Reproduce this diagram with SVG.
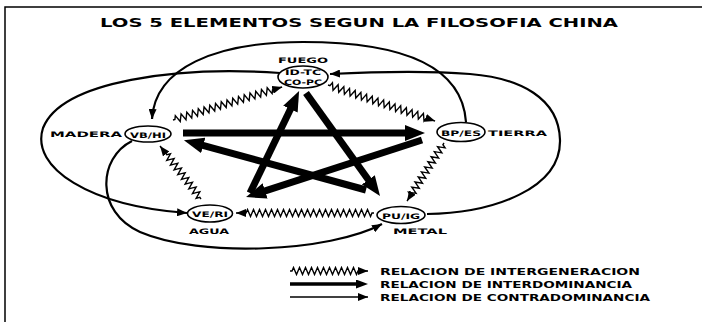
<svg xmlns="http://www.w3.org/2000/svg" width="702" height="322" viewBox="0 0 702 322">
<defs>
<marker id="ah" markerUnits="userSpaceOnUse" markerWidth="10" markerHeight="8" refX="10" refY="4" orient="auto"><path d="M0,0 L10,4 L0,8 z" fill="#000"/></marker>
<marker id="AH" markerUnits="userSpaceOnUse" markerWidth="20" markerHeight="16" refX="8" refY="8" orient="auto"><path d="M0,0 L20,8 L0,16 z" fill="#000"/></marker>
<marker id="LH" markerUnits="userSpaceOnUse" markerWidth="12" markerHeight="9" refX="4" refY="4.5" orient="auto"><path d="M0,0 L12,4.5 L0,9 z" fill="#000"/></marker>
</defs>
<style>
.t{font-family:"DejaVu Sans","Liberation Sans",sans-serif;font-weight:bold;fill:#000}
.lab{font-size:7.5px}
.in{font-size:7.5px}
.leg{font-size:8.5px}
.thin{fill:none;stroke:#000;stroke-width:2.2;marker-end:url(#ah)}
.thick{fill:none;stroke:#000;stroke-width:7;marker-end:url(#AH)}
.wavy{fill:none;stroke:#000;stroke-width:1.4;marker-end:url(#ah)}
.node ellipse{fill:#fff;stroke:#000;stroke-width:1.6}
</style>
<rect width="702" height="322" fill="#fff"/>
<path d="M5,322 V7 H702" fill="none" stroke="#000" stroke-width="1.5"/>
<text id="title" class="t" x="100" y="27" font-size="13" textLength="518" lengthAdjust="spacingAndGlyphs">LOS 5 ELEMENTOS SEGUN LA FILOSOFIA CHINA</text>

<g id="connectors">
<path class="thin" d="M466,122 C462,62 395,42 303,42 C215,42 155,68 152,119"/>
<path class="thin" d="M427,214 C495,213 561,188 560,140 C559,98 520,78 470,74 C420,70 370,72 330,74"/>
<path class="thin" d="M280,73 C180,66 62,80 43,128 C30,168 90,206 187,213"/>
<path class="thin" d="M132,141 C98,158 95,212 140,232 C200,258 330,252 382,224"/>
<line class="thick" x1="183" y1="133" x2="413" y2="133"/>
<line class="thick" x1="422" y1="140" x2="257.5" y2="193.4"/>
<line class="thick" x1="250" y1="193" x2="293.9" y2="101.9"/>
<line class="thick" x1="306" y1="93" x2="373" y2="186.3"/>
<line class="thick" x1="366" y1="190" x2="195.5" y2="143.3"/>
<path class="wavy" transform="translate(173,120) rotate(-16.84)" d="M0,0 h2 l1.5,-3.5 3,7 1.5,-3.5 1.5,-3.5 3,7 1.5,-3.5 1.5,-3.5 3,7 1.5,-3.5 1.5,-3.5 3,7 1.5,-3.5 1.5,-3.5 3,7 1.5,-3.5 1.5,-3.5 3,7 1.5,-3.5 1.5,-3.5 3,7 1.5,-3.5 1.5,-3.5 3,7 1.5,-3.5 1.5,-3.5 3,7 1.5,-3.5 1.5,-3.5 3,7 1.5,-3.5 1.5,-3.5 3,7 1.5,-3.5 1.5,-3.5 3,7 1.5,-3.5 1.5,-3.5 3,7 1.5,-3.5 1.5,-3.5 3,7 1.5,-3.5 1.5,-3.5 3,7 1.5,-3.5 1.5,-3.5 3,7 1.5,-3.5 1.5,-3.5 3,7 1.5,-3.5 h10"/>
<path class="wavy" transform="translate(328,85) rotate(18.6)" d="M0,0 h2 l1.5,-3.5 3,7 1.5,-3.5 1.5,-3.5 3,7 1.5,-3.5 1.5,-3.5 3,7 1.5,-3.5 1.5,-3.5 3,7 1.5,-3.5 1.5,-3.5 3,7 1.5,-3.5 1.5,-3.5 3,7 1.5,-3.5 1.5,-3.5 3,7 1.5,-3.5 1.5,-3.5 3,7 1.5,-3.5 1.5,-3.5 3,7 1.5,-3.5 1.5,-3.5 3,7 1.5,-3.5 1.5,-3.5 3,7 1.5,-3.5 1.5,-3.5 3,7 1.5,-3.5 1.5,-3.5 3,7 1.5,-3.5 1.5,-3.5 3,7 1.5,-3.5 1.5,-3.5 3,7 1.5,-3.5 1.5,-3.5 3,7 1.5,-3.5 1.5,-3.5 3,7 1.5,-3.5 h9"/>
<path class="wavy" transform="translate(444,143) rotate(122.5)" d="M0,0 h2 l1.5,-3.5 3,7 1.5,-3.5 1.5,-3.5 3,7 1.5,-3.5 1.5,-3.5 3,7 1.5,-3.5 1.5,-3.5 3,7 1.5,-3.5 1.5,-3.5 3,7 1.5,-3.5 1.5,-3.5 3,7 1.5,-3.5 1.5,-3.5 3,7 1.5,-3.5 1.5,-3.5 3,7 1.5,-3.5 1.5,-3.5 3,7 1.5,-3.5 1.5,-3.5 3,7 1.5,-3.5 h6.8"/>
<path class="wavy" transform="translate(374,213) rotate(180)" d="M0,0 h2 l1.5,-3.5 3,7 1.5,-3.5 1.5,-3.5 3,7 1.5,-3.5 1.5,-3.5 3,7 1.5,-3.5 1.5,-3.5 3,7 1.5,-3.5 1.5,-3.5 3,7 1.5,-3.5 1.5,-3.5 3,7 1.5,-3.5 1.5,-3.5 3,7 1.5,-3.5 1.5,-3.5 3,7 1.5,-3.5 1.5,-3.5 3,7 1.5,-3.5 1.5,-3.5 3,7 1.5,-3.5 1.5,-3.5 3,7 1.5,-3.5 1.5,-3.5 3,7 1.5,-3.5 1.5,-3.5 3,7 1.5,-3.5 1.5,-3.5 3,7 1.5,-3.5 1.5,-3.5 3,7 1.5,-3.5 1.5,-3.5 3,7 1.5,-3.5 1.5,-3.5 3,7 1.5,-3.5 1.5,-3.5 3,7 1.5,-3.5 1.5,-3.5 3,7 1.5,-3.5 1.5,-3.5 3,7 1.5,-3.5 1.5,-3.5 3,7 1.5,-3.5 h10"/>
<path class="wavy" transform="translate(201,199) rotate(-127.7)" d="M0,0 h2 l1.5,-3.5 3,7 1.5,-3.5 1.5,-3.5 3,7 1.5,-3.5 1.5,-3.5 3,7 1.5,-3.5 1.5,-3.5 3,7 1.5,-3.5 1.5,-3.5 3,7 1.5,-3.5 1.5,-3.5 3,7 1.5,-3.5 1.5,-3.5 3,7 1.5,-3.5 1.5,-3.5 3,7 1.5,-3.5 1.5,-3.5 3,7 1.5,-3.5 h11"/>
</g>

<g id="fuego" class="node">
<text class="t lab" x="303" y="63" text-anchor="middle" textLength="50" lengthAdjust="spacingAndGlyphs">FUEGO</text>
<ellipse cx="303" cy="77" rx="25" ry="11"/>
<text class="t in" x="303" y="75" text-anchor="middle" textLength="36" lengthAdjust="spacingAndGlyphs">ID-TC</text>
<text class="t in" x="303" y="85" text-anchor="middle" textLength="38" lengthAdjust="spacingAndGlyphs">CO-PC</text>
</g>
<g id="madera" class="node">
<text class="t lab" x="50" y="136.5" textLength="72" lengthAdjust="spacingAndGlyphs">MADERA</text>
<ellipse cx="148" cy="134" rx="23" ry="8"/>
<text class="t in" x="148" y="137.5" text-anchor="middle" textLength="36" lengthAdjust="spacingAndGlyphs">VB/HI</text>
</g>
<g id="tierra" class="node">
<ellipse cx="461" cy="132" rx="24" ry="9.5"/>
<text class="t in" x="461" y="135.5" text-anchor="middle" textLength="40" lengthAdjust="spacingAndGlyphs">BP/ES</text>
<text class="t lab" x="488" y="135.5" textLength="59" lengthAdjust="spacingAndGlyphs">TIERRA</text>
</g>
<g id="agua" class="node">
<ellipse cx="210" cy="213.5" rx="22.5" ry="8.5"/>
<text class="t in" x="210" y="217" text-anchor="middle" textLength="36" lengthAdjust="spacingAndGlyphs">VE/RI</text>
<text class="t lab" x="209" y="233.5" text-anchor="middle" textLength="40" lengthAdjust="spacingAndGlyphs">AGUA</text>
</g>
<g id="metal" class="node">
<ellipse cx="401" cy="215" rx="24" ry="8.5"/>
<text class="t in" x="401" y="218.5" text-anchor="middle" textLength="38" lengthAdjust="spacingAndGlyphs">PU/IG</text>
<text class="t lab" x="393" y="233.5" textLength="54" lengthAdjust="spacingAndGlyphs">METAL</text>
</g>

<g id="legend">
<path class="wavy" transform="translate(290,271)" d="M0,0 h2 l1.5,-3.5 3,7 1.5,-3.5 1.5,-3.5 3,7 1.5,-3.5 1.5,-3.5 3,7 1.5,-3.5 1.5,-3.5 3,7 1.5,-3.5 1.5,-3.5 3,7 1.5,-3.5 1.5,-3.5 3,7 1.5,-3.5 1.5,-3.5 3,7 1.5,-3.5 1.5,-3.5 3,7 1.5,-3.5 1.5,-3.5 3,7 1.5,-3.5 1.5,-3.5 3,7 1.5,-3.5 1.5,-3.5 3,7 1.5,-3.5 h10"/>
<line x1="290" y1="284" x2="360" y2="284" stroke="#000" stroke-width="3.5" marker-end="url(#LH)"/>
<line x1="290" y1="297" x2="368" y2="297" stroke="#000" stroke-width="1.3" marker-end="url(#ah)"/>
<text class="t leg" x="380" y="274.5" textLength="260" lengthAdjust="spacingAndGlyphs">RELACION DE INTERGENERACION</text>
<text class="t leg" x="380" y="287.5" textLength="252" lengthAdjust="spacingAndGlyphs">RELACION DE INTERDOMINANCIA</text>
<text class="t leg" x="380" y="300.5" textLength="270" lengthAdjust="spacingAndGlyphs">RELACION DE CONTRADOMINANCIA</text>
</g>
</svg>
